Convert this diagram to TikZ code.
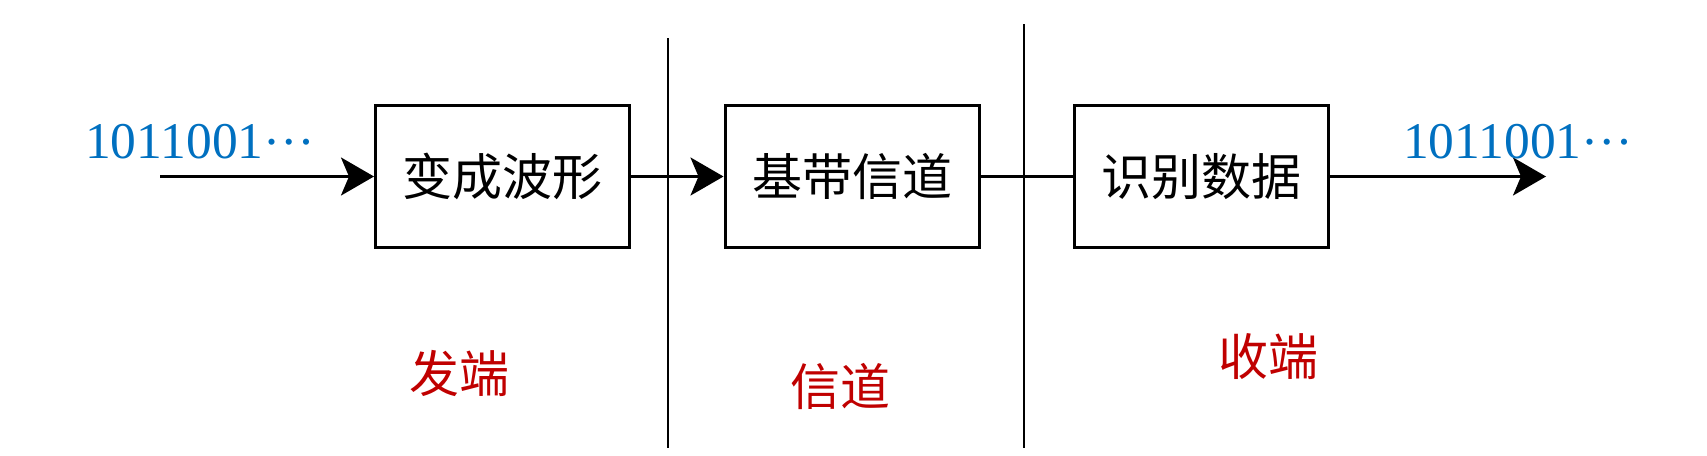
\documentclass[tikz,border=0pt]{standalone}
\usepackage{fontspec}
\setmainfont{Liberation Serif}
\newfontfamily\cjk{Noto Sans CJK SC}
\usetikzlibrary{arrows.meta}
\definecolor{bitblue}{HTML}{0070C0}
\definecolor{partred}{HTML}{C00000}
\newcommand{\middots}{\raisebox{0.27em}{…}}
\begin{document}
\begin{tikzpicture}[x=1pt,y=-1pt,
  blockbox/.style={draw,line width=3pt,minimum width=254pt,minimum height=142pt,inner sep=0pt,font=\cjk\fontsize{50}{50}\selectfont},
  flow/.style={line width=3pt,-{Stealth[length=33pt,width=38pt,inset=8pt]}},
  plainflow/.style={line width=3pt},
  divider/.style={line width=1.5pt},
  bits/.style={anchor=base west,inner sep=0pt,text=bitblue,font=\fontsize{51.5}{51.5}\selectfont},
  part/.style={inner sep=0pt,text=partred,font=\cjk\fontsize{50}{50}\selectfont}]
\useasboundingbox (0,0) rectangle (1707,455);
% dividers
\coordinate (v1t) at (668,38);
\coordinate (v1b) at (668,448);
\coordinate (v2t) at (1024,24);
\coordinate (v2b) at (1024,448);
\draw[divider] (v1t) -- (v1b);
\draw[divider] (v2t) -- (v2b);
% blocks
\node[blockbox] (b1) at (502.5,176.5) {变成波形};
\node[blockbox] (b2) at (852,176.5) {基带信道};
\node[blockbox] (b3) at (1201,176.5) {识别数据};
% connectors
\coordinate (in) at (160,176.5);
\coordinate (out) at (1546,176.5);
\draw[flow] (in) -- (b1.west);
\draw[flow] (b1.east) -- (b2.west);
\draw[plainflow] (b2.east) -- (b3.west);
\draw[flow] (b3.east) -- (out);
% labels
\node[bits] (lin) at (85,158) {1011001\middots};
\node[bits] (lout) at (1403,158) {1011001\middots};
\node[part] (p1) at (459,373) {发端};
\node[part] (p2) at (840,386) {信道};
\node[part] (p3) at (1268,357) {收端};
\end{tikzpicture}
\end{document}
